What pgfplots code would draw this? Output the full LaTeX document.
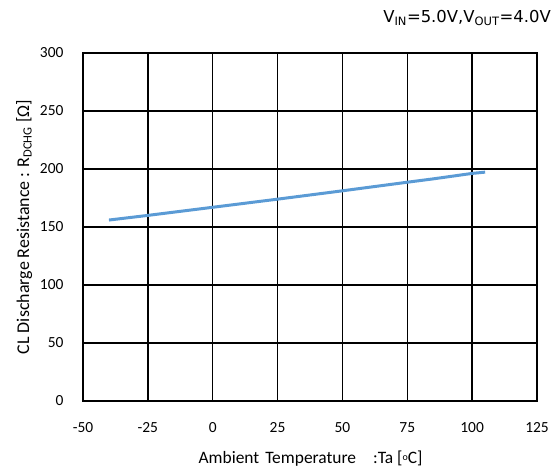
\documentclass[border=0pt]{standalone}
\usepackage{fontspec}
\setmainfont{Carlito}
\newfontfamily\hdrfont{DejaVu Sans}
\usepackage{pgfplots}
\pgfplotsset{compat=1.18}
\definecolor{lineblue}{RGB}{91,155,213}
\begin{document}
\begin{tikzpicture}
\useasboundingbox (-83bp,-69bp) rectangle (476bp,401bp);
\begin{axis}[
  at={(0,0)}, anchor=south west,
  scale only axis, width=454bp, height=348bp,
  xmin=-50, xmax=125, ymin=0, ymax=300,
  xtick={-50,-25,...,125}, ytick={0,50,...,300},
  grid=major, grid style={black, line width=1.5bp},
  axis line style={black, line width=1.5bp},
  major tick length=0pt,
  tick label style={font=\fontsize{15.5}{18}\selectfont},
  /pgf/number format/assume math mode=true,
  xticklabel style={yshift=-18bp},
  yticklabel style={xshift=-16bp},
  xlabel={Ambient\hspace{6bp}Temperature\hspace{17bp}:Ta [\raisebox{0.35ex}{\fontsize{10}{10}\selectfont o}C]},
  ylabel={CL Discharge Resistance : R\textsubscript{DCHG} [Ω]},
  xlabel style={font=\fontsize{17.5}{20}\selectfont, at={(axis cs:37.7,-49.5)}, anchor=center},
  ylabel style={font=\fontsize{18}{21}\selectfont, at={(axis cs:-72.7,150)}, anchor=center},
  clip=false,
]
\addplot[lineblue, line width=3bp] coordinates {
(-40,156) (-25,160) (0,167) (25,174) (50,181.2) (75,188.6) (85,191.5) (100,196.2) (105,197.3)
};
\node[anchor=east, font=\hdrfont\fontsize{16.5}{18}\selectfont, inner sep=0pt] at (axis cs:130.4,330) {V\textsubscript{IN}=5.0V,V\textsubscript{OUT}=4.0V};
\end{axis}
\end{tikzpicture}
\end{document}
